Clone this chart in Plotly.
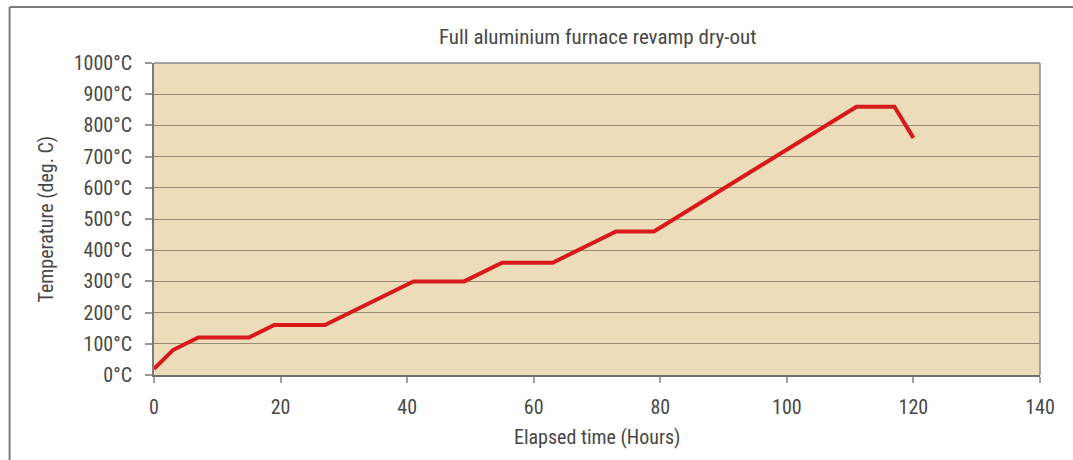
import plotly.graph_objects as go

hours = [0, 3, 7, 15, 19, 27, 41, 49, 55, 63, 73, 79, 111, 117, 120]
temps = [20, 80, 120, 120, 160, 160, 300, 300, 360, 360, 460, 460, 860, 860, 760]

y_ticks = list(range(0, 1001, 100))
y_labels = [f"{v}°C" for v in y_ticks]
x_ticks = list(range(0, 141, 20))

title = "Full aluminium furnace revamp dry-out"
x_title = "Elapsed time (Hours)"
y_title = "Temperature (deg. C)"

W, H = 1073, 460
L, R, T, B = 153.5, 33, 63, 85
pw = W - L - R
ph = H - T - B

FONT = "Liberation Sans Narrow, Roboto Condensed, Roboto"
TXT = "#474747"
FS = 20


def px_to_paper_x(px):
    return (px - L) / pw


def py_to_paper_y(py):
    return (H - B - py) / ph


fig = go.Figure()
fig.add_trace(go.Scatter(
    x=hours, y=temps, mode="lines",
    line=dict(color="#d7191c", width=4),
    hoverinfo="skip", showlegend=False,
))

fig.update_layout(
    width=W, height=H,
    margin=dict(l=L, r=R, t=T, b=B, pad=0),
    paper_bgcolor="white",
    plot_bgcolor="#ecdcba",
    font=dict(family=FONT, size=FS, color=TXT),
    xaxis=dict(
        range=[0, 140], tickvals=x_ticks, ticks="outside", ticklen=6,
        tickcolor="#a0a0a0", tickwidth=1.5, ticklabelstandoff=7,
        showgrid=False, zeroline=False,
        showline=True, linecolor="#6e6e6e", linewidth=2,
        tickfont=dict(family=FONT, size=FS, color=TXT),
    ),
    yaxis=dict(
        range=[0, 1000], tickvals=y_ticks, ticktext=y_labels,
        ticks="outside", ticklen=7, tickcolor="#999999", tickwidth=1.5,
        ticklabelstandoff=9,
        showgrid=True, gridcolor="#968a72", gridwidth=1.2,
        zeroline=False, showline=True, linecolor="#7a7a7a", linewidth=2,
        tickfont=dict(family=FONT, size=FS, color=TXT),
    ),
    annotations=[
        dict(text=title, xref="paper", yref="paper",
             x=0.5, y=py_to_paper_y(37), xanchor="center", yanchor="middle",
             showarrow=False, font=dict(family=FONT, size=21, color=TXT)),
        dict(text=x_title, xref="paper", yref="paper",
             x=0.5, y=py_to_paper_y(437), xanchor="center", yanchor="middle",
             showarrow=False, font=dict(family=FONT, size=FS, color=TXT)),
        dict(text=y_title, xref="paper", yref="paper", textangle=-90,
             x=px_to_paper_x(45), y=0.5, xanchor="center", yanchor="middle",
             showarrow=False, font=dict(family=FONT, size=FS, color=TXT)),
    ],
)

# right plot border
fig.add_shape(type="line", xref="paper", yref="paper", x0=1, x1=1, y0=0, y1=1,
              line=dict(color="#8a8a8a", width=1.5))
# top grid/border line
fig.add_shape(type="line", xref="paper", yref="paper", x0=0, x1=1, y0=1, y1=1,
              line=dict(color="#8a8a8a", width=1.5))

# outer frame (top and left)
fig.add_shape(type="line", xref="paper", yref="paper",
              x0=px_to_paper_x(9), x1=px_to_paper_x(W),
              y0=py_to_paper_y(7), y1=py_to_paper_y(7),
              line=dict(color="#7a7a7a", width=2))
fig.add_shape(type="line", xref="paper", yref="paper",
              x0=px_to_paper_x(9), x1=px_to_paper_x(9),
              y0=py_to_paper_y(7), y1=py_to_paper_y(H),
              line=dict(color="#7a7a7a", width=2))

fig.write_html("out.html", config={"displayModeBar": False},
               post_script="document.body.style.margin='0px';")
